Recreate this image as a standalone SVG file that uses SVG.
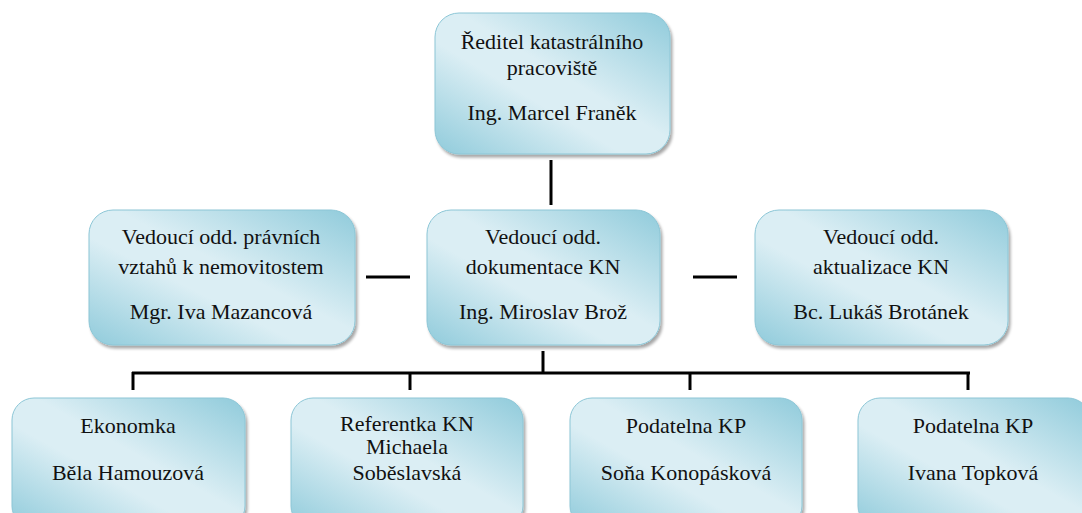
<svg xmlns="http://www.w3.org/2000/svg" width="1082" height="513" viewBox="0 0 1082 513">
<style>
.box{fill:url(#g);stroke:#8cc6d6;stroke-width:1}
.t{font-family:"Liberation Serif","Times New Roman",serif;font-size:22px;fill:#111;text-anchor:middle}
.c{stroke:#000;stroke-width:3;fill:none}
</style>
<defs>
<linearGradient id="g" x1="1" y1="0" x2="0" y2="1">
<stop offset="0" stop-color="#90cbdb"/>
<stop offset="0.45" stop-color="#dbeef4"/>
<stop offset="0.6" stop-color="#dbeef4"/>
<stop offset="1" stop-color="#90cbdb"/>
</linearGradient>
<filter id="sh" x="-5%" y="-5%" width="115%" height="120%">
<feGaussianBlur in="SourceAlpha" stdDeviation="1.5"/>
<feOffset dx="2" dy="3" result="o"/>
<feComponentTransfer><feFuncA type="linear" slope="0.35"/></feComponentTransfer>
<feMerge><feMergeNode/><feMergeNode in="SourceGraphic"/></feMerge>
</filter>
</defs>
<g id="connectors">
<line class="c" x1="551" y1="160" x2="551" y2="205"/>
<line class="c" x1="366" y1="277" x2="410" y2="277"/>
<line class="c" x1="693" y1="277" x2="737" y2="277"/>
<line class="c" x1="543" y1="351" x2="543" y2="373"/>
<line class="c" x1="132" y1="373" x2="970" y2="373"/>
<line class="c" x1="133" y1="372" x2="133" y2="390"/>
<line class="c" x1="410" y1="372" x2="410" y2="390"/>
<line class="c" x1="690" y1="372" x2="690" y2="390"/>
<line class="c" x1="968" y1="372" x2="968" y2="390"/>
</g>
<g id="n-top">
<rect class="box" filter="url(#sh)" x="435" y="13" width="235" height="141" rx="24"/>
<text class="t" x="552" y="49">Ředitel katastrálního</text>
<text class="t" x="552" y="75">pracoviště</text>
<text class="t" x="552" y="120">Ing. Marcel Franěk</text>
</g>
<g id="n-left">
<rect class="box" filter="url(#sh)" x="89" y="210" width="266" height="135" rx="24"/>
<text class="t" x="221" y="244">Vedoucí odd. právních</text>
<text class="t" x="221" y="274">vztahů k nemovitostem</text>
<text class="t" x="221" y="319">Mgr. Iva Mazancová</text>
</g>
<g id="n-mid">
<rect class="box" filter="url(#sh)" x="427" y="210" width="233" height="135" rx="24"/>
<text class="t" x="543" y="244">Vedoucí odd.</text>
<text class="t" x="543" y="274">dokumentace KN</text>
<text class="t" x="543" y="319">Ing. Miroslav Brož</text>
</g>
<g id="n-right">
<rect class="box" filter="url(#sh)" x="755" y="210" width="253" height="135" rx="24"/>
<text class="t" x="881" y="244">Vedoucí odd.</text>
<text class="t" x="881" y="274">aktualizace KN</text>
<text class="t" x="881" y="319">Bc. Lukáš Brotánek</text>
</g>
<g id="n-b1">
<rect class="box" filter="url(#sh)" x="12" y="398" width="233" height="130" rx="22"/>
<text class="t" x="128" y="433">Ekonomka</text>
<text class="t" x="128" y="480">Běla Hamouzová</text>
</g>
<g id="n-b2">
<rect class="box" filter="url(#sh)" x="291" y="398" width="232" height="130" rx="22"/>
<text class="t" x="407" y="431">Referentka KN</text>
<text class="t" x="407" y="454">Michaela</text>
<text class="t" x="407" y="480">Soběslavská</text>
</g>
<g id="n-b3">
<rect class="box" filter="url(#sh)" x="570" y="398" width="232" height="130" rx="22"/>
<text class="t" x="686" y="433">Podatelna KP</text>
<text class="t" x="686" y="480">Soňa Konopásková</text>
</g>
<g id="n-b4">
<rect class="box" filter="url(#sh)" x="858" y="398" width="232" height="130" rx="22"/>
<text class="t" x="973" y="433">Podatelna KP</text>
<text class="t" x="973" y="480">Ivana Topková</text>
</g>
</svg>
